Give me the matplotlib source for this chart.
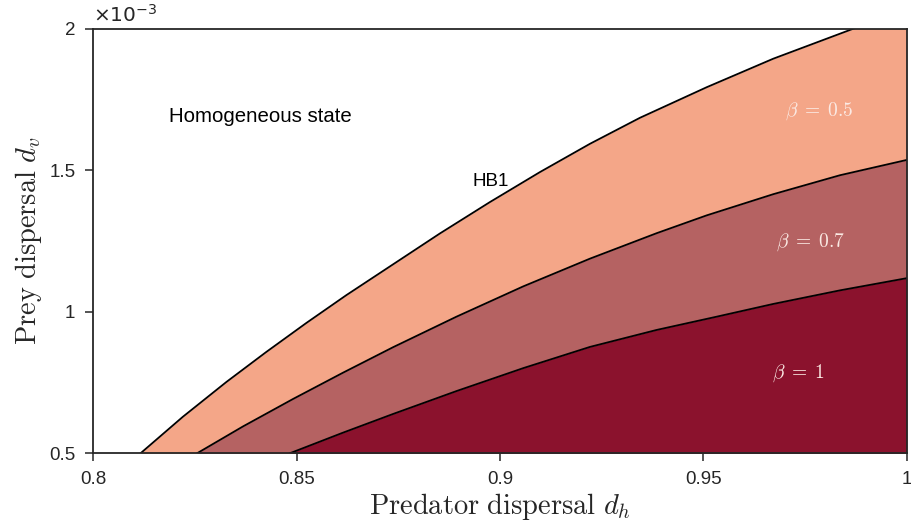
import numpy as np
import matplotlib
matplotlib.use("Agg")
import matplotlib.pyplot as plt
from matplotlib.ticker import FixedLocator, FuncFormatter

plt.rcParams['font.family'] = ['Liberation Sans', 'DejaVu Sans']
plt.rcParams['mathtext.fontset'] = 'cm'

# Boundaries (prey dispersal in units of 1e-3)
hb1_dh = [0.8116, 0.8220, 0.8327, 0.8425, 0.8524, 0.8622, 0.8737, 0.8852,
          0.8975, 0.9098, 0.9221, 0.9344, 0.9508, 0.9672, 0.9878, 1.0]
hb1_dv = [0.500, 0.629, 0.752, 0.858, 0.961, 1.059, 1.168, 1.277,
          1.388, 1.494, 1.594, 1.686, 1.794, 1.895, 2.006, 2.067]

b07_dh = [0.8255, 0.8368, 0.8491, 0.8614, 0.8737, 0.8893, 0.9057, 0.9221,
          0.9385, 0.9508, 0.9672, 0.9836, 1.0]
b07_dv = [0.500, 0.595, 0.692, 0.785, 0.875, 0.983, 1.090, 1.188,
          1.278, 1.341, 1.416, 1.483, 1.537]

b1_dh = [0.8483, 0.8614, 0.8737, 0.8893, 0.9057, 0.9221, 0.9385, 0.9533,
         0.9672, 0.9836, 1.0]
b1_dv = [0.500, 0.573, 0.639, 0.720, 0.801, 0.876, 0.936, 0.983,
         1.028, 1.076, 1.119]

x_ticks = [0.8, 0.85, 0.9, 0.95, 1.0]
y_ticks = [0.5, 1.0, 1.5, 2.0]

colors = ['#f4a688', '#b56262', '#8b122d']
base = 0.5

fig = plt.figure(figsize=(9.11, 5.25), dpi=100)
ax = fig.add_axes([0.1025, 0.1366, 0.8928, 0.8082])

curves = [(hb1_dh, hb1_dv), (b07_dh, b07_dv), (b1_dh, b1_dv)]
for (xs, ys), c in zip(curves, colors):
    ax.fill_between(xs, ys, base, color=c, linewidth=0, zorder=1)
    ax.plot(xs, ys, '-', color='black', linewidth=1.3, zorder=2)

ax.set_xlim(0.8, 1.0)
ax.set_ylim(0.5, 2.0)
ax.xaxis.set_major_locator(FixedLocator(x_ticks))
ax.yaxis.set_major_locator(FixedLocator(y_ticks))
fmt = FuncFormatter(lambda v, p: '%g' % v)
ax.xaxis.set_major_formatter(fmt)
ax.yaxis.set_major_formatter(fmt)

for s in ax.spines.values():
    s.set_color('#262626')
    s.set_linewidth(1.3)
    s.set_zorder(3)
ax.tick_params(direction='out', length=6, width=1.1, color='#262626',
               labelsize=13.5, labelcolor='#262626', pad=7,
               top=False, right=False)

ax.set_xlabel(r'$\mathrm{Predator\ dispersal}\ d_h$', fontsize=20.5, color='#262626', labelpad=2)
ax.set_ylabel(r'$\mathrm{Prey\ dispersal}\ d_v$', fontsize=20.5, color='#262626', labelpad=4)

ax.annotate(r'$\times10^{-3}$', xy=(0, 1), xycoords='axes fraction',
            xytext=(0, 2), textcoords='offset points', ha='left', va='bottom',
            fontsize=14.5, color='#262626', math_fontfamily='dejavusans')

ax.text(0.841, 1.690, 'Homogeneous state', fontsize=14.7, ha='center', va='center')
ax.text(0.8976, 1.461, 'HB1', fontsize=13.5, ha='center', va='center')

txt_c = '#fbeae4'
ax.text(0.9785, 1.711, r'$\beta\;=\;0.5$', fontsize=14, color=txt_c, ha='center', va='center')
ax.text(0.9764, 1.245, r'$\beta\;=\;0.7$', fontsize=14, color=txt_c, ha='center', va='center')
ax.text(0.9734, 0.783, r'$\beta\;=\;1$', fontsize=14, color=txt_c, ha='center', va='center')

plt.savefig("out.png", dpi=100)
